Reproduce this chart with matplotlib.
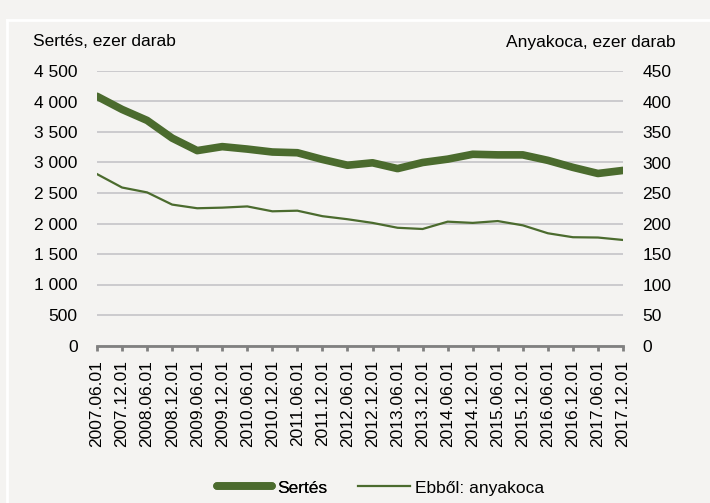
import matplotlib
import numpy as np

matplotlib.use("Agg")
import matplotlib.pyplot as plt
from matplotlib.lines import Line2D

plt.rcParams["font.family"] = ["Liberation Sans", "DejaVu Sans"]
FS = 12.5

DATES = ["2007.06.01", "2007.12.01", "2008.06.01", "2008.12.01", "2009.06.01",
         "2009.12.01", "2010.06.01", "2010.12.01", "2011.06.01", "2011.12.01",
         "2012.06.01", "2012.12.01", "2013.06.01", "2013.12.01", "2014.06.01",
         "2014.12.01", "2015.06.01", "2015.12.01", "2016.06.01", "2016.12.01",
         "2017.06.01", "2017.12.01"]
SERTES = [4085, 3870, 3690, 3400, 3195, 3260, 3220, 3172, 3160, 3050,
          2955, 2995, 2900, 3000, 3055, 3135, 3125, 3125, 3035, 2920,
          2820, 2870]
ANYAKOCA = [281, 259, 251, 231, 225, 226, 228, 220, 221, 212,
            207, 201, 193, 191, 203, 201, 204, 197, 184, 177.5,
            177, 173]

LEFT_TICKS = np.arange(0, 4501, 500)
RIGHT_TICKS = np.arange(0, 451, 50)

GREEN = "#4b6b2e"
BG = "#f4f3f1"
GRID = "#c4c4c8"


def fmt_thousands(v):
    return f"{int(v):,}".replace(",", " ")


fig = plt.figure(figsize=(7.1, 5.03), dpi=100, facecolor=BG)

# white frame lines of the panel
fig.add_artist(Line2D([7 / 710, 7 / 710], [0, 1 - 20 / 503], color="white", lw=2))
fig.add_artist(Line2D([7 / 710, 1], [1 - 20 / 503, 1 - 20 / 503], color="white", lw=2))

ax = fig.add_axes([97 / 710, 1 - 345.5 / 503, 526 / 710, 274.5 / 503])
ax.set_facecolor(BG)
x = np.arange(len(DATES))

ax.set_xlim(0, len(DATES) - 1)
ax.set_ylim(0, 4500)
ax.set_yticks(LEFT_TICKS)
ax.set_yticklabels([fmt_thousands(v) for v in LEFT_TICKS])
ax.grid(True, axis="y", color=GRID, lw=1.2)
ax.set_axisbelow(True)
for s in ("top", "right", "left"):
    ax.spines[s].set_visible(False)
ax.spines["bottom"].set_color("#808080")
ax.spines["bottom"].set_linewidth(2)
ax.tick_params(axis="y", length=0, pad=14, labelsize=FS)
ax.set_xticks(x)
ax.set_xticklabels(DATES, rotation=90, fontsize=FS)
ax.tick_params(axis="x", length=3.6, width=2, color="#808080", pad=7)

ax.plot(x, SERTES, color=GREEN, lw=5.5, solid_capstyle="round", zorder=3)

ax2 = ax.twinx()
ax2.set_ylim(0, 450)
ax2.set_yticks(RIGHT_TICKS)
ax2.tick_params(axis="y", length=0, pad=14, labelsize=FS)
for s in ax2.spines.values():
    s.set_visible(False)
ax2.plot(x, ANYAKOCA, color=GREEN, lw=1.6, zorder=3)

fig.text(33 / 710, 1 - 42 / 503, "Sertés, ezer darab", fontsize=FS, va="center", ha="left")
fig.text(676 / 710, 1 - 42 / 503, "Anyakoca, ezer darab", fontsize=FS, va="center", ha="right")

# legend: two entries placed side by side at the bottom
leg_kw = dict(loc="center left", frameon=False, fontsize=FS, borderpad=0,
              borderaxespad=0, handletextpad=0.29)
leg1 = fig.legend([Line2D([], [], color=GREEN, lw=5.5, solid_capstyle="round")], ["Sertés"],
                  bbox_to_anchor=(217 / 710, 1 - 488 / 503), handlelength=3.16, **leg_kw)
fig.legend([Line2D([], [], color=GREEN, lw=1.6)], ["Ebből: anyakoca"],
           bbox_to_anchor=(358 / 710, 1 - 488 / 503), handlelength=3.0, **leg_kw)
fig.add_artist(leg1)

plt.savefig("out.png", dpi=100, facecolor=BG)
